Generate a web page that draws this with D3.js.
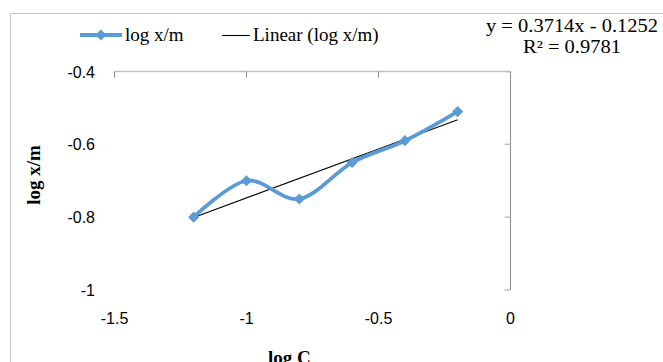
<!DOCTYPE html>
<html>
<head>
<meta charset="utf-8">
<script src="https://cdn.jsdelivr.net/npm/d3@7"></script>
<style>
  body { margin: 0; background: #fff; }
  svg { display: block; }
</style>
</head>
<body>
<svg id="chart-svg" width="663" height="362"></svg>
<script>
var logCe = [-1.2, -1.0, -0.8, -0.6, -0.4, -0.2];
var logXm = [-0.8, -0.7, -0.75, -0.65, -0.59, -0.51];
var xTicks = [-1.5, -1, -0.5, 0];
var yTicks = [-0.4, -0.6, -0.8, -1];
var eqText = "y = 0.3714x - 0.1252";
var r2Text = "R\u00B2 = 0.9781";

var data = logCe.map((x, i) => ({ x: x, y: logXm[i] }));

var svg = d3.select("#chart-svg");

var x = d3.scaleLinear().domain([-1.5, 0]).range([114.5, 510.5]);
var y = d3.scaleLinear().domain([-1, -0.4]).range([290, 71.5]);

var serif = "'Liberation Serif', 'Times New Roman', serif";
var sans = "'Liberation Sans', Arial, sans-serif";
var fmt = d => String(d); // plain hyphen minus, like the original

// chart area border (runs off the right and bottom of the picture)
svg.append("rect")
    .attr("x", 10.5).attr("y", 13.5)
    .attr("width", 700).attr("height", 400)
    .attr("fill", "none")
    .attr("stroke", "#c6c6c6");

// horizontal axis line sits at the top (y = -0.4)
svg.append("line")
    .attr("x1", x(-1.5)).attr("x2", x(0))
    .attr("y1", y(-0.4)).attr("y2", y(-0.4))
    .attr("stroke", "#c0c0c0").attr("stroke-width", 1.5);

svg.selectAll(".xtick")
    .data(xTicks)
    .enter().append("line")
    .attr("class", "xtick")
    .attr("x1", d => Math.round(x(d)) - 0.5).attr("x2", d => Math.round(x(d)) - 0.5)
    .attr("y1", y(-0.4)).attr("y2", y(-0.4) + 6)
    .attr("stroke", "#8a8a8a");

// vertical axis line sits at the right (x = 0)
svg.append("line")
    .attr("x1", x(0)).attr("x2", x(0))
    .attr("y1", y(-0.4)).attr("y2", y(-1))
    .attr("stroke", "#8a8a8a").attr("stroke-width", 1);

svg.selectAll(".ytick")
    .data(yTicks)
    .enter().append("line")
    .attr("class", "ytick")
    .attr("x1", x(0) - 6).attr("x2", x(0))
    .attr("y1", d => y(d)).attr("y2", d => y(d))
    .attr("stroke", "#c0c0c0").attr("stroke-width", 1.5);

// tick labels
svg.selectAll(".xlabel")
    .data(xTicks)
    .enter().append("text")
    .attr("class", "xlabel")
    .attr("x", d => x(d))
    .attr("y", 324)
    .attr("text-anchor", "middle")
    .attr("font-family", sans).attr("font-size", 16)
    .text(fmt);

svg.selectAll(".ylabel")
    .data(yTicks)
    .enter().append("text")
    .attr("class", "ylabel")
    .attr("x", 95)
    .attr("y", d => y(d) + 6)
    .attr("text-anchor", "end")
    .attr("font-family", sans).attr("font-size", 16)
    .text(fmt);

// axis titles
svg.append("text")
    .attr("transform", "translate(40,175) rotate(-90)")
    .attr("text-anchor", "middle")
    .attr("font-family", serif).attr("font-size", 19).attr("font-weight", "bold")
    .text("log x/m");

var xt = svg.append("text")
    .attr("x", 268).attr("y", 364)
    .attr("font-family", serif).attr("font-size", 19).attr("font-weight", "bold");
xt.append("tspan").text("log C");
xt.append("tspan").attr("dy", 4).attr("font-size", 13).text("e");

// linear trendline (least squares through the data)
var mx = d3.mean(data, d => d.x), my = d3.mean(data, d => d.y);
var slope = d3.sum(data, d => (d.x - mx) * (d.y - my)) / d3.sum(data, d => (d.x - mx) * (d.x - mx));
var icpt = my - slope * mx;
var xr = d3.extent(logCe);

svg.append("line")
    .attr("x1", x(xr[0])).attr("y1", y(slope * xr[0] + icpt))
    .attr("x2", x(xr[1])).attr("y2", y(slope * xr[1] + icpt))
    .attr("stroke", "#000").attr("stroke-width", 1.1);

// smoothed series line
var line = d3.line()
    .x(d => x(d.x))
    .y(d => y(d.y))
    .curve(d3.curveCatmullRom.alpha(0));

svg.append("path")
    .datum(data)
    .attr("d", line)
    .attr("fill", "none")
    .attr("stroke", "#5B9BD5")
    .attr("stroke-width", 3.8)
    .attr("stroke-linejoin", "round");

var diamond = d3.symbol().type(d3.symbolSquare).size(62);

svg.selectAll(".marker")
    .data(data)
    .enter().append("path")
    .attr("class", "marker")
    .attr("d", diamond)
    .attr("transform", d => "translate(" + x(d.x) + "," + y(d.y) + ") rotate(45)")
    .attr("fill", "#5B9BD5");

// legend
svg.append("line")
    .attr("x1", 80).attr("x2", 122).attr("y1", 35).attr("y2", 35)
    .attr("stroke", "#5B9BD5").attr("stroke-width", 3.8);
svg.append("path")
    .attr("d", diamond)
    .attr("transform", "translate(101,35) rotate(45)")
    .attr("fill", "#5B9BD5");
svg.append("text")
    .attr("x", 125).attr("y", 41)
    .attr("font-family", serif).attr("font-size", 19)
    .text("log x/m");

svg.append("line")
    .attr("x1", 222).attr("x2", 250).attr("y1", 35.5).attr("y2", 35.5)
    .attr("stroke", "#000").attr("stroke-width", 1.1);
svg.append("text")
    .attr("x", 253).attr("y", 41)
    .attr("font-family", serif).attr("font-size", 19)
    .text("Linear (log x/m)");

// trendline equation
svg.append("text")
    .attr("x", 572).attr("y", 32)
    .attr("text-anchor", "middle")
    .attr("font-family", serif).attr("font-size", 18)
    .attr("textLength", 172).attr("lengthAdjust", "spacingAndGlyphs")
    .text(eqText);
svg.append("text")
    .attr("x", 572).attr("y", 53)
    .attr("text-anchor", "middle")
    .attr("font-family", serif).attr("font-size", 18)
    .attr("textLength", 98).attr("lengthAdjust", "spacingAndGlyphs")
    .text(r2Text);
</script>
</body>
</html>
